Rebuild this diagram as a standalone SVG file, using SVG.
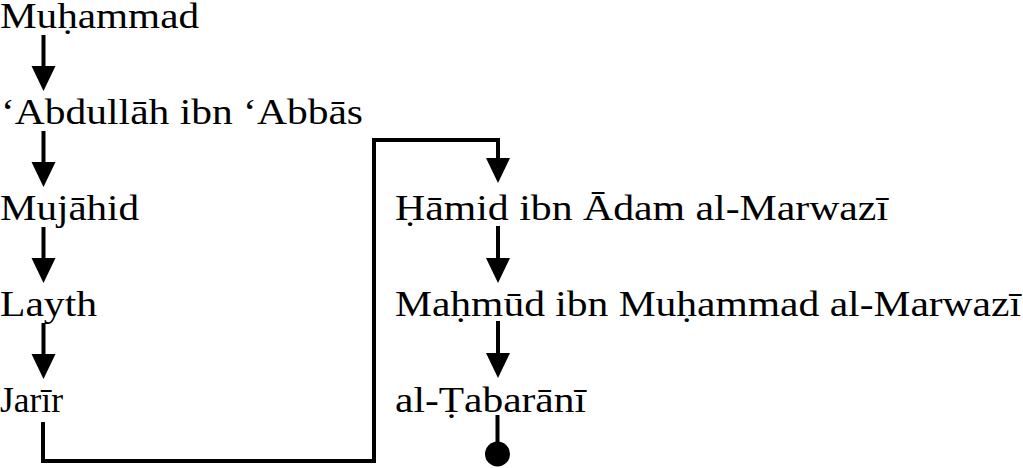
<svg xmlns="http://www.w3.org/2000/svg" width="1023" height="468" viewBox="0 0 1023 468">
<style>
  .t { font-family: 'Liberation Serif', 'Times New Roman', serif; font-size: 35px; fill: #000; }
  .c { fill: none; stroke: #000; stroke-width: 4; }
</style>
<defs>
  <marker id="ah" markerUnits="userSpaceOnUse" markerWidth="25" markerHeight="25" refX="0" refY="12" orient="auto" viewBox="0 0 25 24">
    <path d="M0,0 L25,12 L0,24 Z" fill="#000"/>
  </marker>
</defs>
<rect width="1023" height="468" fill="#fff"/>
<g id="n-muhammad"><text class="t" x="0" y="28" textLength="199" lengthAdjust="spacingAndGlyphs">Muḥammad</text></g>
<g id="n-abdullah"><text class="t" x="1" y="124" textLength="362" lengthAdjust="spacingAndGlyphs">‘Abdullāh ibn ‘Abbās</text></g>
<g id="n-mujahid"><text class="t" x="0" y="220" textLength="139" lengthAdjust="spacingAndGlyphs">Mujāhid</text></g>
<g id="n-layth"><text class="t" x="0" y="316" textLength="97" lengthAdjust="spacingAndGlyphs">Layth</text></g>
<g id="n-jarir"><text class="t" x="0" y="412" textLength="63" lengthAdjust="spacingAndGlyphs">Jarīr</text></g>
<g id="n-hamid"><text class="t" x="395" y="220" textLength="493" lengthAdjust="spacingAndGlyphs">Ḥāmid ibn Ādam al-Marwazī</text></g>
<g id="n-mahmud"><text class="t" x="395" y="316" textLength="626" lengthAdjust="spacingAndGlyphs">Maḥmūd ibn Muḥammad al-Marwazī</text></g>
<g id="n-tabarani"><text class="t" x="395" y="412" textLength="191" lengthAdjust="spacingAndGlyphs">al-Ṭabarānī</text></g>
<g id="connectors">
  <line class="c" x1="43.5" y1="35" x2="43.5" y2="66" marker-end="url(#ah)"/>
  <line class="c" x1="43.5" y1="131" x2="43.5" y2="162" marker-end="url(#ah)"/>
  <line class="c" x1="43.5" y1="227" x2="43.5" y2="258" marker-end="url(#ah)"/>
  <line class="c" x1="43.5" y1="323" x2="43.5" y2="354" marker-end="url(#ah)"/>
  <path class="c" d="M43,422 V461 H374 V140 H498 V158" marker-end="url(#ah)"/>
  <line class="c" x1="498" y1="226" x2="498" y2="258" marker-end="url(#ah)"/>
  <line class="c" x1="498" y1="321" x2="498" y2="353" marker-end="url(#ah)"/>
  <line class="c" x1="497.5" y1="415" x2="497.5" y2="445"/>
  <circle cx="497.5" cy="454" r="12.5" fill="#000"/>
</g>
</svg>
